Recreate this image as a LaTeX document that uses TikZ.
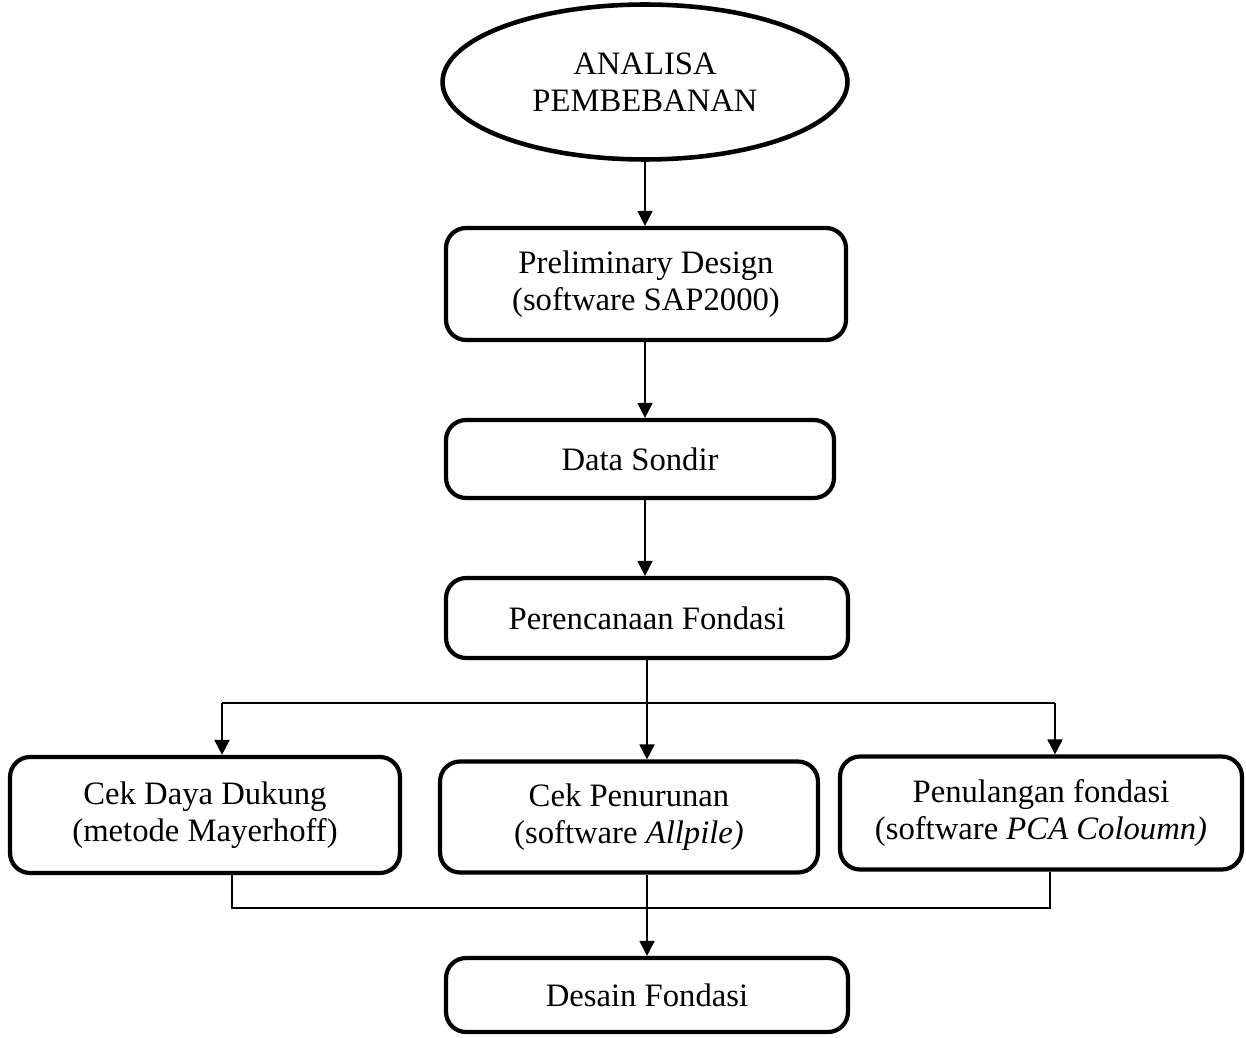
\documentclass[tikz,border=0pt]{standalone}
\usepackage{fontspec}
\setmainfont{Liberation Serif}
\usetikzlibrary{positioning,arrows.meta,shapes.geometric}

\tikzset{
  kotak/.style={draw,line width=2.4pt,rounded corners=0.4cm,align=center,font=\fontsize{18.6}{21}\selectfont,inner sep=0pt},
  mulai/.style={draw,ellipse,line width=2.6pt,align=center,font=\fontsize{18.6}{21}\selectfont,inner sep=0pt},
  panah/.style={line width=1.1pt,-{Triangle[length=0.3cm,width=0.3cm]}},
  garis/.style={line width=1.1pt}
}

\begin{document}
\begin{tikzpicture}[x=0.02cm,y=-0.02cm]
  \useasboundingbox (0,0) rectangle (1246,1037);
  \node[mulai,minimum width=8.1cm,minimum height=3.1cm] (analisa) at (645,82){ANALISA\\PEMBEBANAN};
  \node[kotak,minimum width=8cm,minimum height=2.24cm] (prelim) at (646,284){Preliminary Design\\(software SAP2000)};
  \node[kotak,minimum width=7.76cm,minimum height=1.56cm] (sondir) at (640,459){Data Sondir};
  \node[kotak,minimum width=8.04cm,minimum height=1.6cm] (rencana) at (647,618){Perencanaan Fondasi};
  \node[kotak,minimum width=7.8cm,minimum height=2.32cm] (dukung) at (205,815){Cek Daya Dukung\\(metode Mayerhoff)};
  \node[kotak,minimum width=7.56cm,minimum height=2.22cm] (turun) at (629,817){Cek Penurunan\\(software \textit{Allpile)}};
  \node[kotak,minimum width=8.04cm,minimum height=2.26cm] (tulangan) at (1041,813){Penulangan fondasi\\(software \textit{PCA Coloumn)}};
  \node[kotak,minimum width=8.04cm,minimum height=1.48cm] (desain) at (647,995){Desain Fondasi};

  \draw[panah] (analisa.south -| 645,0) -- (prelim.north -| 645,0);
  \draw[panah] (prelim.south -| 645,0) -- (sondir.north -| 645,0);
  \draw[panah] (sondir.south -| 645,0) -- (rencana.north -| 645,0);
  % percabangan
  \coordinate (kiri) at (222,703);
  \coordinate (kanan) at (1055,703);
  \draw[panah] (rencana.south) -- (rencana.south |- turun.north);
  \draw[garis] (kiri) -- (kanan);
  \draw[panah] (kiri) -- (kiri |- dukung.north);
  \draw[panah] (kanan) -- (kanan |- tulangan.north);
  % penggabungan
  \coordinate (kiribawah) at (232,908);
  \coordinate (kananbawah) at (1050,908);
  \draw[garis] (kiribawah |- dukung.south) -- (kiribawah) -- (kananbawah) -- (kananbawah |- tulangan.south);
  \draw[panah] (desain.north |- turun.south) -- (desain.north);
\end{tikzpicture}
\end{document}
